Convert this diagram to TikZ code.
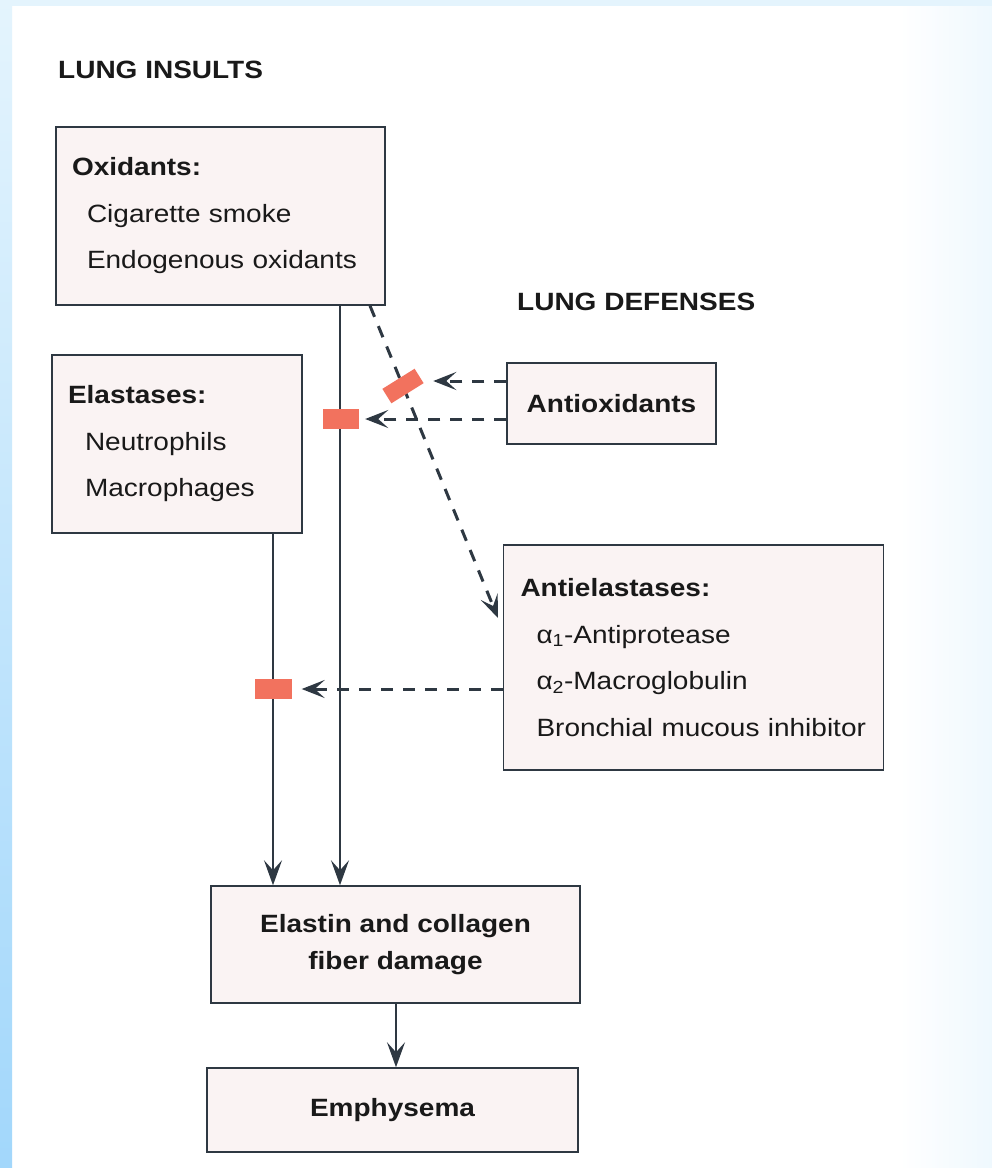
\documentclass[tikz,border=0pt]{standalone}
\usepackage{fontspec}
\setmainfont{Liberation Sans}[FakeStretch=1.12]
\usetikzlibrary{arrows.meta}
\definecolor{boxpink}{HTML}{FAF3F3}
\definecolor{inkgray}{HTML}{2E3842}
\definecolor{blockred}{HTML}{F2725E}
\definecolor{stripblue}{HTML}{A2D7FB}
\definecolor{paleblue}{HTML}{E4F4FD}
\tikzstyle{box}=[draw=inkgray, fill=boxpink, line width=1.5pt, inner sep=0pt, text=black!90]
\tikzstyle{listbox}=[box, align=left, inner xsep=16pt, font=\fontsize{25}{46.5}\selectfont]
\tikzstyle{flow}=[draw=inkgray, line width=2pt, -{Stealth[length=25pt, width=18pt, inset=10pt]}]
\tikzstyle{inhib}=[draw=inkgray, line width=3pt, dash pattern=on 12pt off 10pt, -{Stealth[length=23pt, width=18pt, inset=10pt]}]
\tikzstyle{block}=[fill=blockred, inner sep=0pt]
\tikzstyle{heading}=[anchor=west, inner sep=0pt, text=black!90, font=\bfseries\fontsize{25}{30}\selectfont]

\begin{document}
\begin{tikzpicture}[x=1pt, y=-1pt]
% Page
    \useasboundingbox (0,0) rectangle (992,1168);
    \fill[white] (0,0) rectangle (992,1168);
    \shade[left color=white, right color=paleblue!60] (900,0) rectangle (992,1168);
    \fill[paleblue] (0,0) rectangle (992,6);
    \shade[top color=paleblue, bottom color=stripblue] (0,0) rectangle (12,1168);
% Headings
    \node[heading] (insults) at (58,70) {LUNG INSULTS};
    \node[heading] (defenses) at (517,302) {LUNG DEFENSES};
% Insults
    \node[listbox, text width=297pt, minimum height=178pt] (oxid) at (220.5,216)
        {{\bfseries Oxidants:}\\\hspace*{15pt}Cigarette smoke\\\hspace*{15pt}Endogenous oxidants};
    \node[listbox, text width=218pt, minimum height=178pt] (elast) at (177,444)
        {{\bfseries Elastases:}\\\hspace*{17pt}Neutrophils\\\hspace*{17pt}Macrophages};
% Defenses
    \node[box, minimum width=209pt, minimum height=81pt, font=\bfseries\fontsize{25}{30}\selectfont] (antiox) at (611.5,403.5) {Antioxidants};
    \node[listbox, text width=346pt, minimum height=225pt, inner xsep=17pt] (antiel) at (693.5,657.5)
        {{\bfseries Antielastases:}\\\hspace*{16pt}α\textsubscript{1}-Antiprotease\\\hspace*{16pt}α\textsubscript{2}-Macroglobulin\\\hspace*{16pt}Bronchial mucous inhibitor};
% Outcome
    \node[box, align=center, minimum width=369pt, minimum height=117pt, font=\bfseries\fontsize{25}{37}\selectfont] (damage) at (395.5,944.5) {Elastin and collagen\\fiber damage};
    \node[box, minimum width=371pt, minimum height=84pt, font=\bfseries\fontsize{25}{30}\selectfont] (emph) at (392.5,1110) {Emphysema};
% Reference points
    \coordinate (xel) at (273,0);
    \coordinate (xox) at (340,0);
    \coordinate (xdiag) at (370,0);
    \coordinate (tipA) at (498,618);
    \coordinate (xout) at (396,0);
% Insult paths
    \draw[flow] (elast.south -| xel) -- (damage.north -| xel);
    \draw[flow] (oxid.south -| xox) -- (damage.north -| xox);
    \draw[flow] (damage.south -| xout) -- (emph.north -| xout);
    \draw[inhib] (oxid.south -| xdiag) -- (tipA);
% Blocks
    \node[block, minimum width=36pt, minimum height=20pt] (rrA) at (341,419) {};
    \node[block, minimum width=38pt, minimum height=17pt, rotate=32] (rrB) at (403,386) {};
    \node[block, minimum width=37pt, minimum height=20pt] (rrC) at (273,689) {};
% Defense paths
    \draw[inhib] (antiox.west |- 0,381) -- ([xshift=14pt]rrB.east |- 0,381);
    \draw[inhib] (antiox.west |- rrA) -- ([xshift=6pt]rrA.east);
    \draw[inhib] (antiel.west |- rrC) -- ([xshift=10pt]rrC.east);
\end{tikzpicture}
\end{document}
